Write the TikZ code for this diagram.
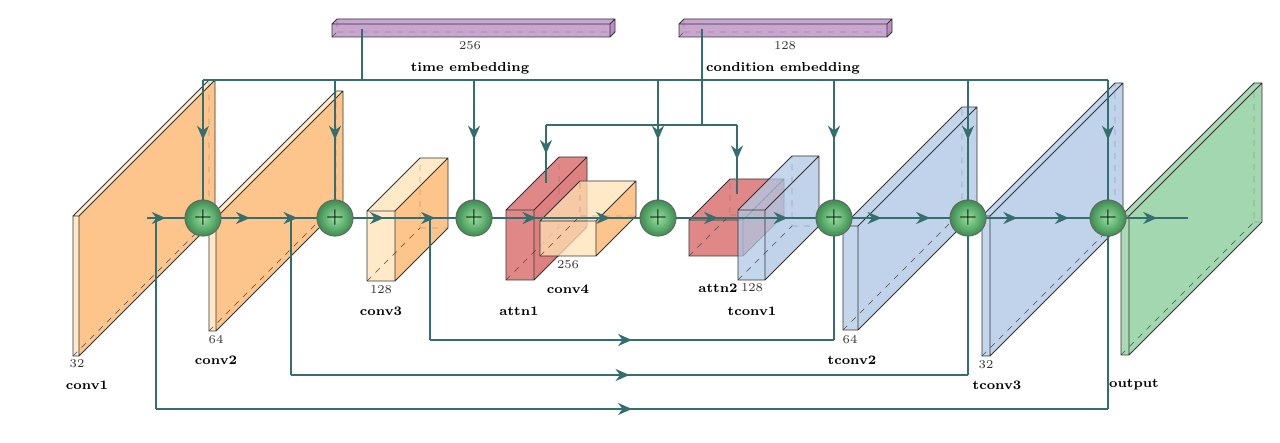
\documentclass[tikz,border=0pt]{standalone}
\usetikzlibrary{arrows.meta, decorations.markings}

\definecolor{lineteal}{RGB}{52,110,110}
\definecolor{convcol}{RGB}{253,183,110}
\definecolor{convlight}{RGB}{255,226,180}
\definecolor{attncol}{RGB}{214,96,96}
\definecolor{tconvcol}{RGB}{176,200,230}
\definecolor{outcol}{RGB}{140,205,155}
\definecolor{embcol}{RGB}{170,115,180}
\definecolor{ballin}{RGB}{150,225,160}
\definecolor{ballout}{RGB}{60,140,80}

% cuboid: name, x, y (front bottom left), width, height, depth, colour, front colour
\newcommand\cuboid[8]{%
  \begin{scope}[shift={(#2,#3)}]
    \fill[#8, fill opacity=.75] (0,0) rectangle (#4,-#5);
    \fill[#8, fill opacity=.75] (0,-#5) -- (#4,-#5) -- (#4+#6,-#5-#6) -- (#6,-#5-#6) -- cycle;
    \fill[#7, fill opacity=.8] (#4,0) -- (#4+#6,-#6) -- (#4+#6,-#5-#6) -- (#4,-#5) -- cycle;
    \draw[black!70, dashed, very thin] (0,0) -- (#6,-#6) -- (#6,-#5-#6) (#6,-#6) -- (#4+#6,-#6);
    \draw[black!80, thin] (0,0) rectangle (#4,-#5)
      (0,-#5) -- (#6,-#5-#6) -- (#4+#6,-#5-#6) -- (#4+#6,-#6) -- (#4,0)
      (#4,-#5) -- (#4+#6,-#5-#6);
    \coordinate (#1) at (0,0);
  \end{scope}}

\tikzset{
  line/.style = {draw=lineteal, line width=1pt},
  flow/.style = {line, postaction={decorate}, decoration={markings,
      mark=at position .3 with {\arrow{Stealth[length=7pt,width=6pt]}},
      mark=at position .8 with {\arrow{Stealth[length=7pt,width=6pt]}}}},
  flowmid/.style = {line, postaction={decorate}, decoration={markings,
      mark=at position .5 with {\arrow{Stealth[length=7pt,width=6pt]}}}},
  sum/.style = {circle, draw=black!60, inner color=ballin, outer color=ballout,
      minimum size=18pt, inner sep=0pt, font=\large},
  size/.style = {font=\fontsize{6}{7}\selectfont, text=black!80},
  lbl/.style = {font=\fontsize{6.5}{8}\selectfont\bfseries},
}

\begin{document}
\begin{tikzpicture}[x=0.5pt, y=-0.5pt]
\useasboundingbox (0,0) rectangle (1280,443);

% embeddings
\cuboid{temb}{332}{37}{278}{13}{5}{embcol}{embcol!85!white}
\cuboid{cemb}{679}{37}{208}{13}{5}{embcol}{embcol!85!white}
\node[size] at (470,46) {256};
\node[lbl] at (470,68) {time embedding};
\node[size] at (785,46) {128};
\node[lbl] at (783,68) {condition embedding};

% layers
\cuboid{conv1}{73}{356}{6}{140}{136}{convcol}{convlight}
\cuboid{conv2}{209}{331}{7}{113}{127}{convcol}{convlight}
\cuboid{conv3}{367}{281}{28}{70}{53}{convcol}{convlight}
\cuboid{attn1}{506}{280}{28}{70}{53}{attncol}{attncol}
\cuboid{conv4}{540}{256}{56}{35}{40}{convcol}{convlight}
\cuboid{attn2}{689}{256}{54}{36}{41}{attncol}{attncol}
\cuboid{tconv1}{738}{280}{27}{70}{54}{tconvcol}{tconvcol}
\cuboid{tconv2}{843}{330}{15}{104}{119}{tconvcol}{tconvcol}
\cuboid{tconv3}{982}{356}{8}{140}{133}{tconvcol}{tconvcol}
\cuboid{output}{1121}{355}{8}{139}{133}{outcol}{outcol}

% labels
\node[size] at (77,364) {32};   \node[lbl] at (87,385) {conv1};
\node[size] at (216,340) {64};  \node[lbl] at (216,360) {conv2};
\node[size] at (381,290) {128}; \node[lbl] at (381,311) {conv3};
\node[size] at (568,265) {256}; \node[lbl] at (568,289) {conv4};
\node[lbl] at (519,311) {attn1};
\node[lbl] at (718,288) {attn2};
\node[size] at (752,288) {128}; \node[lbl] at (752,311) {tconv1};
\node[size] at (850,340) {64};  \node[lbl] at (852,360) {tconv2};
\node[size] at (986,365) {32};  \node[lbl] at (997,385) {tconv3};
\node[lbl] at (1134,385) {output};

% sums
\node[sum] (s1) at (203,218) {$+$};
\node[sum] (s2) at (335,218) {$+$};
\node[sum] (s3) at (474,218) {$+$};
\node[sum] (s4) at (658,218) {$+$};
\node[sum] (s5) at (834,218) {$+$};
\node[sum] (s6) at (968,218) {$+$};
\node[sum] (s7) at (1108,218) {$+$};

\coordinate (in) at (147,218);
\coordinate (out) at (1188,218);
\coordinate (k1) at (156,218);
\coordinate (k2) at (291,218);
\coordinate (k3) at (430,218);
\coordinate (t0) at (362,29);
\coordinate (tb) at (362,80);
\coordinate (c0) at (702,29);
\coordinate (cb) at (702,125);
\coordinate (a1) at (546,183);
\coordinate (a2) at (737,194);

% main path
\draw[flowmid] (in) -- (s1.west);
\foreach \a/\b in {s1/s2, s2/s3, s3/s4, s4/s5, s5/s6, s6/s7}
  \draw[flow] (\a.east) -- (\b.west);
\draw[flowmid] (s7.east) -- (out);

% time embedding
\draw[line] (t0) -- (tb);
\draw[line] (tb -| s1) -- (tb -| s7);
\foreach \s in {s1, s2, s3, s4, s5, s6, s7}
  \draw[flowmid] (tb -| \s) -- (\s.north);

% condition embedding
\draw[line] (c0) -- (cb);
\draw[line] (cb -| a1) -- (cb -| a2);
\draw[flowmid] (cb -| a1) -- (a1);
\draw[flowmid] (cb -| a2) -- (a2);

% skip connections
\foreach \k/\s/\yy in {k3/s5/340, k2/s6/375, k1/s7/409} {
  \draw[line] (\k) -- (\k |- 0,\yy);
  \draw[flowmid] (\k |- 0,\yy) -- (\s |- 0,\yy);
  \draw[line] (\s |- 0,\yy) -- (\s.south);
}

% redraw sums on top
\foreach \x in {203, 335, 474, 658, 834, 968, 1108}
  \node[sum] at (\x,218) {$+$};
\end{tikzpicture}
\end{document}
